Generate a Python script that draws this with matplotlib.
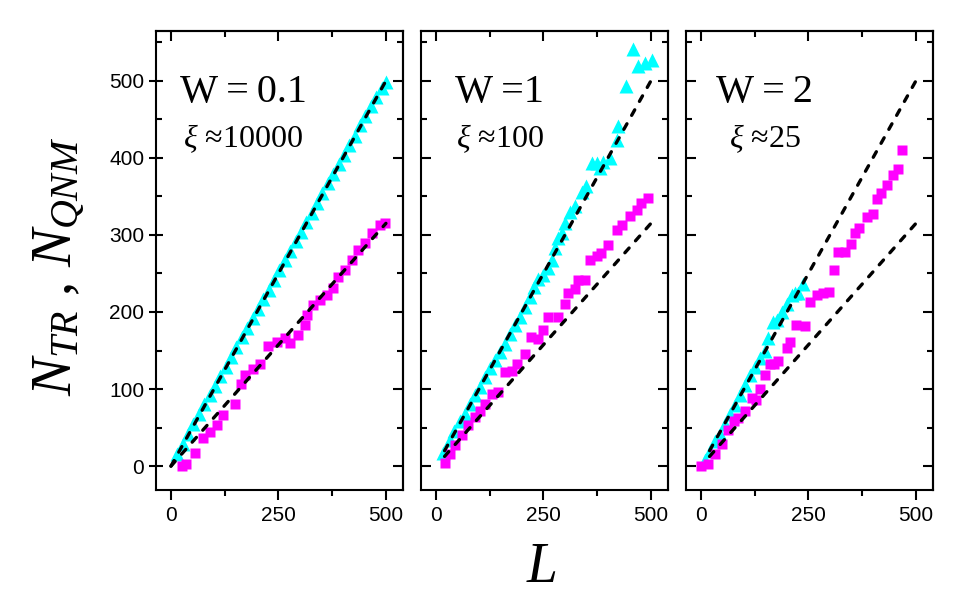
import matplotlib
matplotlib.use('Agg')
import matplotlib.pyplot as plt
from matplotlib.ticker import MultipleLocator

plt.rcParams['mathtext.fontset'] = 'custom'
plt.rcParams['mathtext.rm'] = 'Liberation Serif'
plt.rcParams['mathtext.it'] = 'Liberation Serif:italic'
plt.rcParams['font.family'] = ['Liberation Sans', 'DejaVu Sans']

# ---------------- data ----------------
# Panel 1 : W = 0.1
L1_tri = [15, 27, 40, 52, 65, 77, 90, 102, 115, 127, 140, 152, 165, 177, 190, 202, 215, 227, 240, 252,
          265, 277, 290, 302, 315, 327, 340, 352, 365, 377, 390, 402, 415, 427, 440, 452, 465, 477, 490, 500]
N1_tri = [16, 29, 42, 54, 67, 80, 92, 104, 117, 129, 142, 154, 167, 179, 192, 204, 217, 229, 242, 254,
          267, 279, 292, 304, 317, 329, 342, 354, 367, 379, 392, 404, 417, 429, 442, 454, 467, 479, 491, 499]
L1_sq = [25, 35, 55, 75, 90, 106, 122, 149, 164, 172, 191, 207, 226, 246, 265, 277, 296, 312, 316, 331,
         346, 362, 377, 389, 405, 420, 436, 451, 467, 486, 498]
N1_sq = [0, 3, 17, 36, 44, 53, 66, 81, 106, 118, 126, 133, 156, 161, 166, 160, 170, 183, 196, 209,
         216, 222, 231, 246, 254, 267, 280, 290, 302, 313, 316]

# Panel 2 : W = 1
L2_tri = [17, 32, 43, 55, 67, 79, 90, 102, 114, 126, 137, 149, 160, 172, 184, 196, 207, 219, 227, 238,
          250, 261, 269, 277, 285, 292, 300, 312, 323, 339, 350, 362, 374, 381, 389, 405, 420, 424, 443,
          459, 471, 486, 502]
N2_tri = [17, 34, 45, 58, 68, 81, 92, 103, 116, 127, 138, 148, 159, 172, 183, 194, 207, 220, 233, 243,
          248, 257, 267, 283, 296, 302, 315, 330, 337, 356, 363, 393, 393, 387, 395, 400, 423, 441, 493,
          541, 519, 523, 527]
L2_sq = [21, 33, 44, 60, 75, 91, 103, 114, 130, 145, 160, 176, 188, 207, 222, 238, 250, 261, 284, 300,
         308, 323, 331, 346, 358, 374, 385, 401, 420, 432, 451, 467, 478, 494]
N2_sq = [4, 16, 27, 40, 53, 64, 72, 81, 94, 96, 122, 124, 133, 146, 168, 165, 177, 194, 194, 211,
         224, 230, 241, 241, 267, 273, 276, 287, 306, 313, 324, 332, 341, 348]

# Panel 3 : W = 2
L3_tri = [9, 21, 33, 44, 56, 67, 79, 91, 102, 114, 126, 137, 149, 157, 168, 176, 188, 199, 211, 218,
          226, 238]
N3_tri = [8, 19, 32, 42, 55, 68, 79, 92, 105, 118, 129, 140, 150, 166, 187, 190, 200, 211, 222, 224,
          224, 236]
L3_sq = [0, 17, 33, 48, 64, 76, 87, 102, 118, 129, 137, 149, 160, 170, 180, 199, 207, 220, 242, 253,
         269, 285, 298, 309, 319, 335, 348, 358, 368, 387, 399, 409, 419, 432, 447, 459, 468]
N3_sq = [0, 3, 16, 29, 47, 58, 62, 72, 88, 86, 100, 118, 133, 133, 136, 153, 161, 183, 182, 213,
         222, 224, 226, 255, 278, 278, 288, 302, 309, 323, 327, 346, 354, 365, 378, 385, 410]

# reference lines (upper and lower dashed guides)
guide_L = [[0, 500], [20, 500], [20, 500]]
guide_upper = [[0, 500], [20, 500], [20, 500]]
guide_lower = [[0, 315], [12.6, 315], [12.6, 315]]

titles = ['W\u2009=\u20090.1', 'W\u2009=1', 'W\u2009=\u20092']
xis = [r'$\xi$ ≈10000', r'$\xi$ ≈100', r'$\xi$ ≈25']
x_ticks = [0, 250, 500]
y_ticks = [0, 100, 200, 300, 400, 500]

tri_data = [(L1_tri, N1_tri), (L2_tri, N2_tri), (L3_tri, N3_tri)]
sq_data = [(L1_sq, N1_sq), (L2_sq, N2_sq), (L3_sq, N3_sq)]

# ---------------- figure ----------------
W, H = 960, 605
fig = plt.figure(figsize=(9.6, 6.05), dpi=100)

lefts = [155.7, 420.7, 685.7]
bottom_px, top_px = 490, 30.7
width_px = 247

CYAN = '#00FFFF'
MAG = '#FF00FF'

for i in range(3):
    ax = fig.add_axes([lefts[i] / W, 1 - bottom_px / H, width_px / W, (bottom_px - top_px) / H])
    ax.set_xlim(-35.5, 539)
    ax.set_ylim(-31, 565)

    Lt, Nt = tri_data[i]
    Ls, Ns = sq_data[i]
    ax.plot(Lt, Nt, linestyle='none', marker='^', ms=10.5, color=CYAN, mec='none', zorder=2)
    ax.plot(Ls, Ns, linestyle='none', marker='s', ms=7.2, color=MAG, mec='none', zorder=3)
    for gy in (guide_upper[i], guide_lower[i]):
        ax.plot(guide_L[i], gy, color='black', lw=2.4, linestyle=(0, (1.9, 2.9)),
                dash_capstyle='round', zorder=4)

    for sp in ax.spines.values():
        sp.set_linewidth(1.5)

    ax.xaxis.set_major_locator(MultipleLocator(250))
    ax.xaxis.set_minor_locator(MultipleLocator(125))
    ax.yaxis.set_major_locator(MultipleLocator(100))
    ax.yaxis.set_minor_locator(MultipleLocator(50))
    ax.set_xticks(x_ticks)
    ax.set_xticklabels([str(v) for v in x_ticks])

    ax.tick_params(axis='x', which='major', direction='out', length=7.2, width=1.5,
                   labelsize=15, pad=4, top=False)
    ax.tick_params(axis='x', which='minor', direction='out', length=4, width=1.5, top=False)
    if i == 0:
        ax.set_yticks(y_ticks)
        ax.set_yticklabels([str(v) for v in y_ticks])
        ax.tick_params(axis='y', which='major', direction='inout', length=10.5, width=1.5,
                       labelsize=15, pad=3, right=False)
    else:
        ax.set_yticks(y_ticks)
        ax.tick_params(axis='y', which='major', direction='in', length=7.2, width=1.5,
                       labelleft=False, right=False)
    ax.tick_params(axis='y', which='minor', direction='in', length=4, width=1.5, right=False)

    # top and right: inward ticks
    secx = ax.secondary_xaxis('top')
    secx.xaxis.set_major_locator(MultipleLocator(250))
    secx.xaxis.set_minor_locator(MultipleLocator(125))
    secx.tick_params(axis='x', which='major', direction='in', length=7.2, width=1.5, labeltop=False)
    secx.tick_params(axis='x', which='minor', direction='in', length=4, width=1.5)
    secx.spines['top'].set_linewidth(1.5)
    secy = ax.secondary_yaxis('right')
    secy.yaxis.set_major_locator(MultipleLocator(100))
    secy.yaxis.set_minor_locator(MultipleLocator(50))
    secy.tick_params(axis='y', which='major', direction='in', length=7.2, width=1.5, labelright=False)
    secy.tick_params(axis='y', which='minor', direction='in', length=4, width=1.5)
    secy.spines['right'].set_linewidth(1.5)

    cx = 0.355 if i == 0 else 0.32
    ax.text(cx, 0.845, titles[i], transform=ax.transAxes, ha='center', va='baseline',
            fontsize=29, family=['Liberation Serif', 'DejaVu Serif'], color='black')
    ax.text(cx, 0.746, xis[i], transform=ax.transAxes, ha='center', va='baseline',
            fontsize=23, family=['Liberation Serif', 'DejaVu Serif'], color='black')

fig.text(71.5 / W, 1 - 266 / H, r'$N_{TR}$ , $N_{QNM}$', rotation=90, rotation_mode='anchor',
         ha='center', va='baseline', fontsize=41, family=['Liberation Serif', 'DejaVu Serif'])
fig.text(541 / W, 1 - 582 / H, r'$L$', ha='center', va='baseline', fontsize=40,
         family=['Liberation Serif', 'DejaVu Serif'])

fig.savefig('out.png', dpi=100)
